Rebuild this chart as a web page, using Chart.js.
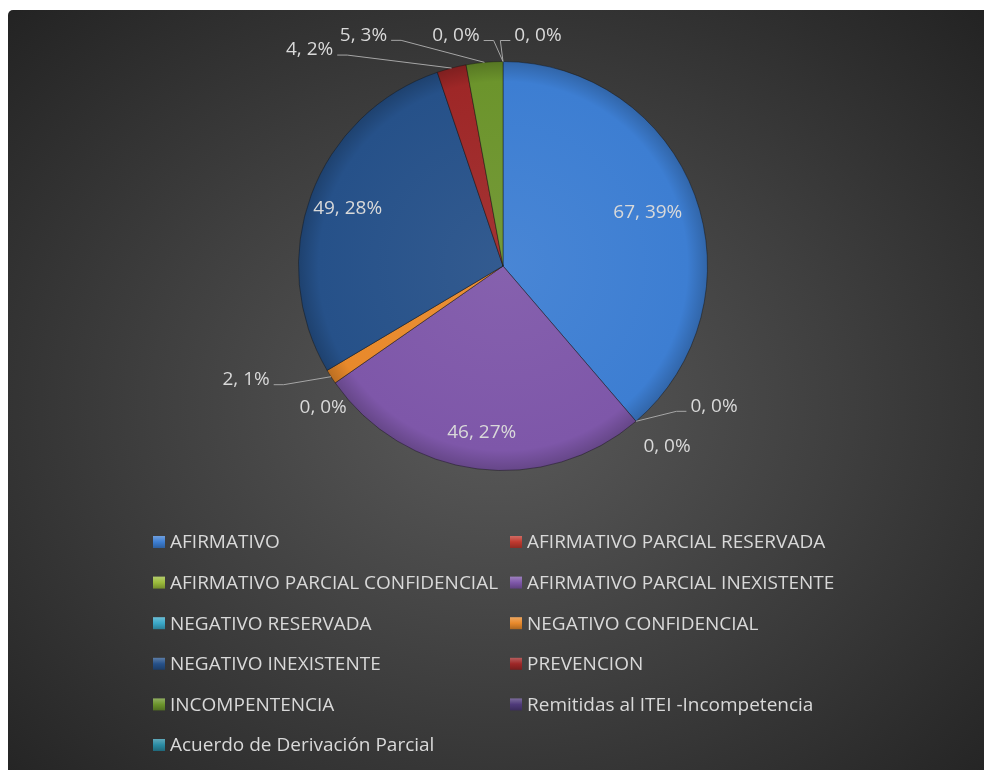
<!DOCTYPE html>
<html>
<head>
<meta charset="utf-8">
<script src="https://cdn.jsdelivr.net/npm/chart.js@4.4.1/dist/chart.umd.min.js"></script>
<style>
html, body { margin: 0; padding: 0; background: #fff; }
#wrap {
    position: absolute; left: 8px; top: 10px; width: 976px; height: 760px;
    border-top-left-radius: 5px; overflow: hidden;
    background: radial-gradient(ellipse farthest-corner at 50% 52%, #5a5a5a 0%, #3f3f3f 50%, #232323 100%);
}
canvas { display: block; }
</style>
</head>
<body>
<div id="wrap"><canvas id="pieChart" width="976" height="760"></canvas></div>
<script>
// DATA
const categories = [
    'AFIRMATIVO',
    'AFIRMATIVO PARCIAL RESERVADA',
    'AFIRMATIVO PARCIAL CONFIDENCIAL',
    'AFIRMATIVO PARCIAL INEXISTENTE',
    'NEGATIVO RESERVADA',
    'NEGATIVO CONFIDENCIAL',
    'NEGATIVO INEXISTENTE',
    'PREVENCION',
    'INCOMPENTENCIA',
    'Remitidas al ITEI -Incompetencia',
    'Acuerdo de Derivación Parcial'
];
const values = [67, 0, 0, 46, 0, 2, 49, 4, 5, 0, 0];

const colors = [
    '#3d7ed2', '#c0392f', '#9bbb3b', '#7e57a9', '#3aa8c8', '#e8892b',
    '#265189', '#9e2727', '#6c942c', '#4f3a7a', '#2a8ba3'
];

const TEXT = '#d9d9d9';
const FONT = '19px "Open Sans"';

// label placement: inside (fraction of radius) or outside (offset from slice edge)
const placement = {
    0: { inside: 0.755 },
    1: { dx: 78, dy: -15, leader: true },
    2: { dx: 31, dy: 25 },
    3: { inside: 0.82 },
    4: { dx: -12, dy: 25 },
    5: { dx: -85, dy: 3, leader: true },
    6: { inside: 0.81 },
    7: { dx: -142, dy: -18, leader: true },
    8: { dx: -121, dy: -27, leader: true },
    9: { dx: -47, dy: -26, leader: true },
    10: { dx: 35, dy: -26, leader: true }
};

function shade(hex, amt) {
    const n = parseInt(hex.slice(1), 16);
    let r = (n >> 16) & 255, g = (n >> 8) & 255, b = n & 255;
    const f = v => Math.max(0, Math.min(255, Math.round(amt > 0 ? v + (255 - v) * amt : v * (1 + amt))));
    return `rgb(${f(r)},${f(g)},${f(b)})`;
}

// SLICE LABELS
const sliceLabels = {
    id: 'sliceLabels',
    afterDatasetsDraw(chart) {
        const c = chart.ctx;
        const meta = chart.getDatasetMeta(0);
        const data = chart.data.datasets[0].data;
        const total = data.reduce((a, b) => a + b, 0);
        c.save();
        c.font = FONT;
        c.fillStyle = TEXT;
        c.textAlign = 'center';
        c.textBaseline = 'middle';
        c.strokeStyle = '#a6a6a6';
        c.lineWidth = 1;
        meta.data.forEach((arc, i) => {
            const p = placement[i];
            const { x, y, startAngle, endAngle, outerRadius } = arc.getProps(['x', 'y', 'startAngle', 'endAngle', 'outerRadius'], true);
            const mid = (startAngle + endAngle) / 2;
            const text = data[i] + ', ' + Math.round(data[i] / total * 100) + '%';
            let tx, ty;
            if (p.inside) {
                tx = x + Math.cos(mid) * outerRadius * p.inside;
                ty = y + Math.sin(mid) * outerRadius * p.inside;
            } else {
                const ex = x + Math.cos(mid) * outerRadius;
                const ey = y + Math.sin(mid) * outerRadius;
                tx = ex + p.dx;
                ty = ey + p.dy;
                if (p.leader) {
                    const hw = c.measureText(text).width / 2;
                    const endX = p.dx < 0 ? tx + hw + 4 : tx - hw - 4;
                    const endY = ty + 5;
                    const elbowX = endX + (p.dx < 0 ? 10 : -10);
                    c.beginPath();
                    c.moveTo(ex, ey);
                    c.lineTo(elbowX, endY);
                    c.lineTo(endX, endY);
                    c.stroke();
                }
            }
            c.fillText(text, tx, ty);
        });
        c.restore();
    }
};

// LEGEND (two columns)
const gridLegend = {
    id: 'gridLegend',
    afterDraw(chart) {
        const c = chart.ctx;
        const labels = chart.data.labels;
        const cols = chart.data.datasets[0].legendColors;
        const x0 = 145, colGap = 357, y0 = 532, rowGap = 40.6, box = 12;
        c.save();
        c.font = FONT;
        c.textBaseline = 'middle';
        c.textAlign = 'left';
        labels.forEach((lab, i) => {
            const bx = x0 + (i % 2) * colGap;
            const by = y0 + Math.floor(i / 2) * rowGap;
            const g = c.createLinearGradient(0, by - box / 2, 0, by + box / 2);
            g.addColorStop(0, shade(cols[i], 0.25));
            g.addColorStop(0.5, cols[i]);
            g.addColorStop(1, shade(cols[i], -0.25));
            c.fillStyle = g;
            c.fillRect(bx, by - box / 2, box, box);
            c.fillStyle = TEXT;
            c.fillText(lab, bx + box + 5, by + 1);
        });
        c.restore();
    }
};

function sliceFill(ctx) {
    const base = colors[ctx.dataIndex];
    const chart = ctx.chart;
    const area = chart.chartArea;
    if (!area) return base;
    const cx = (area.left + area.right) / 2;
    const cy = (area.top + area.bottom) / 2;
    const r = Math.min(area.right - area.left, area.bottom - area.top) / 2;
    const g = chart.ctx.createRadialGradient(cx, cy, 0, cx, cy, r);
    g.addColorStop(0, shade(base, 0.06));
    g.addColorStop(0.9, base);
    g.addColorStop(1, shade(base, -0.2));
    return g;
}

// CHART INITIALIZATION
const ctx = document.getElementById('pieChart').getContext('2d');
const pieChart = new Chart(ctx, {
    type: 'pie',
    data: {
        labels: categories,
        datasets: [{
            data: values,
            legendColors: colors,
            backgroundColor: sliceFill,
            borderColor: 'rgba(20, 20, 20, 0.45)',
            borderWidth: 1
        }]
    },
    options: {
        responsive: false,
        animation: false,
        layout: { padding: { top: 51, bottom: 299, left: 14, right: 0 } },
        plugins: {
            legend: { display: false },
            tooltip: { enabled: false }
        }
    },
    plugins: [sliceLabels, gridLegend]
});
</script>
</body>
</html>
